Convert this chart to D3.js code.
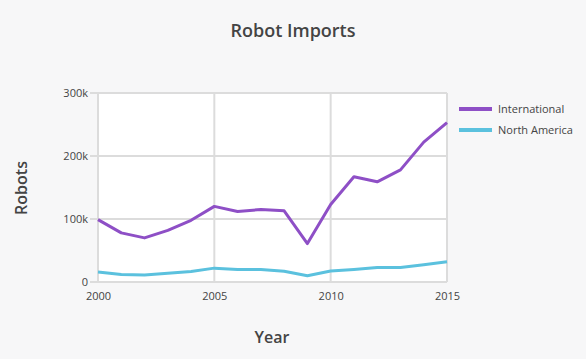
<!DOCTYPE html>
<html><head><meta charset="utf-8">
<script src="https://cdn.jsdelivr.net/npm/d3@7"></script>
<style>
html,body{margin:0;padding:0;background:#f7f7f8;}
svg{display:block;font-family:"Open Sans",Lato,sans-serif;}
</style></head>
<body><svg id="c" width="586" height="359"></svg>
<script>
const years = [2000,2001,2002,2003,2004,2005,2006,2007,2008,2009,2010,2011,2012,2013,2014,2015];
const international = [99000,78000,70000,82000,98000,120000,112000,115000,113000,61000,123000,167000,159000,178000,222000,253000];
const northAmerica = [16000,12000,11000,14000,16500,22000,20000,20000,17000,10000,17500,20000,23000,23000,27500,32000];
const seriesNames = ["International","North America"];
const colors = ["#8e4fc6","#5bc1de"];
const xTicks = [2000,2005,2010,2015];
const yTicks = [0,100000,200000,300000];
const yTickLabels = ["0","100k","200k","300k"];

const svg = d3.select("#c");
const m = {l:98, r:586-447, t:93, b:359-282};
const W = 586, H = 359;
const x = d3.scaleLinear().domain([2000,2015]).range([m.l, W-m.r]);
const y = d3.scaleLinear().domain([0,300000]).range([H-m.b, m.t]);

svg.append("rect").attr("x",m.l).attr("y",m.t).attr("width",x(2015)-x(2000)).attr("height",y(0)-y(300000)).attr("fill","#fff");

// grid
const g = svg.append("g");
g.selectAll(".vg").data(xTicks).join("line")
 .attr("x1",d=>x(d)).attr("x2",d=>x(d)).attr("y1",y(0)).attr("y2",y(300000))
 .attr("stroke","#dcdcdc").attr("stroke-width",2);
g.selectAll(".hg").data(yTicks).join("line")
 .attr("x1",x(2000)-8).attr("x2",x(2015)).attr("y1",d=>y(d)).attr("y2",d=>y(d))
 .attr("stroke","#dcdcdc").attr("stroke-width",2);

// axes labels
const yAxis = d3.axisLeft(y).tickValues(yTicks).tickFormat((d,i)=>yTickLabels[i]).tickSize(0).tickPadding(10);
const ya = svg.append("g").attr("transform",`translate(${m.l},0)`).call(yAxis);
ya.select(".domain").remove();
ya.selectAll("text").attr("font-size",11).attr("fill","#444").attr("font-family","'Open Sans',sans-serif");

const xAxis = d3.axisBottom(x).tickValues(xTicks).tickFormat(d3.format("d")).tickSize(0).tickPadding(10);
const xa = svg.append("g").attr("transform",`translate(0,${y(0)})`).call(xAxis);
xa.select(".domain").remove();
xa.selectAll("text").attr("font-size",11).attr("fill","#444").attr("font-family","'Open Sans',sans-serif");

// lines
const data = [international, northAmerica];
const line = d3.line().x((d,i)=>x(years[i])).y(d=>y(d));
svg.selectAll(".ln").data(data).join("path")
 .attr("d",line).attr("fill","none").attr("stroke",(d,i)=>colors[i]).attr("stroke-width",3).attr("stroke-linejoin","round");

// title and axis titles
svg.append("text").attr("x",293).attr("y",37).attr("text-anchor","middle")
 .attr("font-size",18).attr("font-weight",600).attr("fill","#444").text("Robot Imports");
svg.append("text").attr("transform","translate(27,188) rotate(-90)").attr("text-anchor","middle")
 .attr("font-size",16).attr("font-weight",600).attr("fill","#444").text("Robots");
svg.append("text").attr("x",272).attr("y",343).attr("text-anchor","middle")
 .attr("font-size",16).attr("font-weight",600).attr("fill","#444").text("Year");

// legend
const lg = svg.append("g").selectAll("g").data(seriesNames).join("g")
 .attr("transform",(d,i)=>`translate(459,${109+i*21})`);
lg.append("line").attr("x1",0).attr("x2",33).attr("stroke",(d,i)=>colors[i]).attr("stroke-width",4);
lg.append("text").attr("x",39).attr("y",4).attr("font-size",11).attr("fill","#444").text(d=>d);
</script></body></html>
